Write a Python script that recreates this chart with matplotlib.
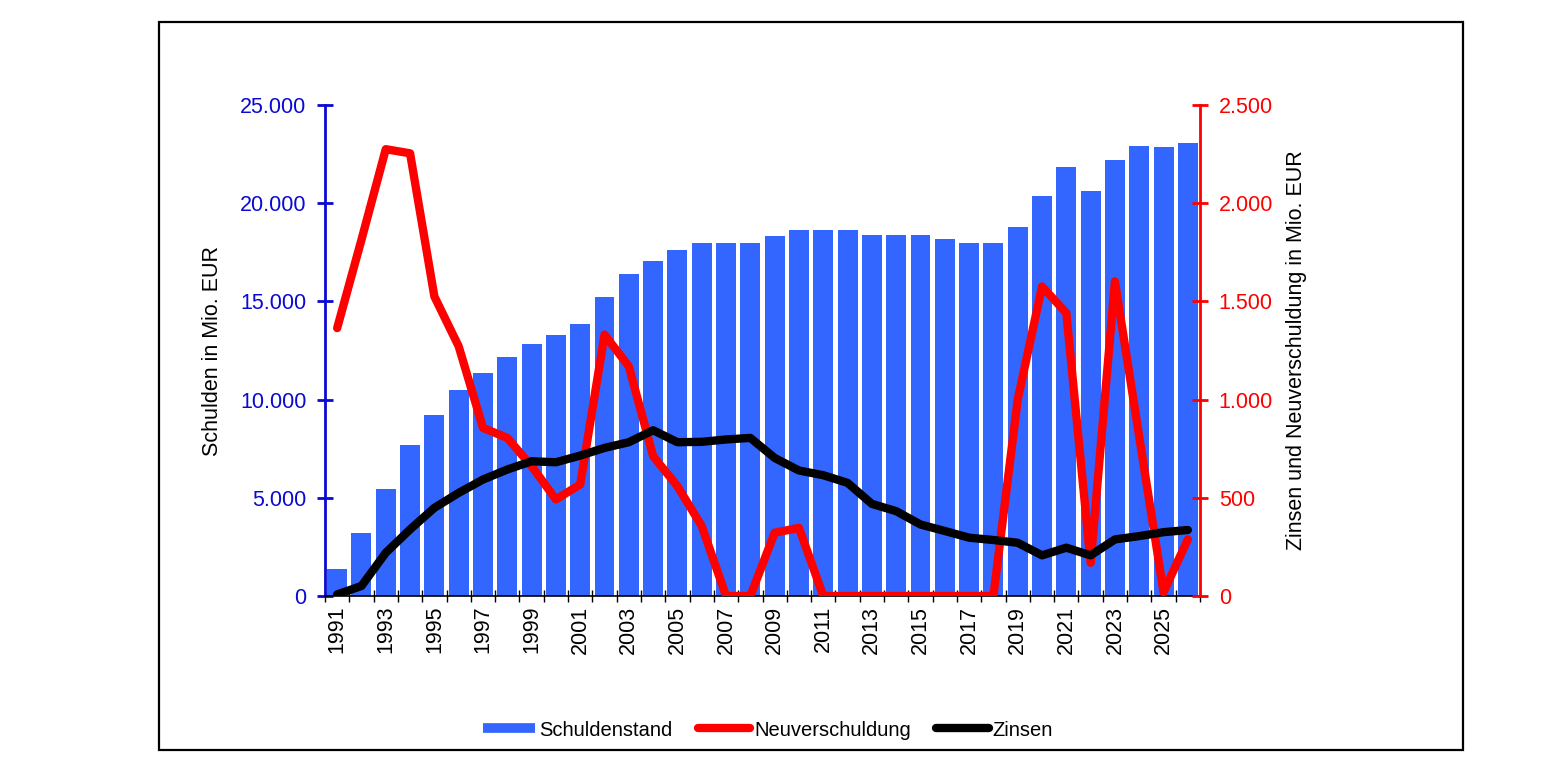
import matplotlib
matplotlib.use("Agg")
from matplotlib import pyplot as plt
from matplotlib.patches import Rectangle
from matplotlib.lines import Line2D
from matplotlib.ticker import FuncFormatter, FixedLocator
import numpy as np

plt.rcParams["font.family"] = ["Liberation Sans", "DejaVu Sans"]

years = list(range(1991, 2027))
schuldenstand = [1360, 3190, 5470, 7690, 9240, 10510, 11370, 12190, 12850, 13310,
                 13860, 15240, 16410, 17070, 17630, 17970, 17970, 17970, 18340, 18640,
                 18640, 18640, 18390, 18390, 18390, 18190, 17970, 17970, 18800, 20370,
                 21850, 20630, 22200, 22920, 22860, 23080]
neuverschuldung = [1364, 1814, 2275, 2254, 1525, 1271, 856, 805, 661, 492,
                   568, 1331, 1169, 712, 559, 356, 0, 0, 322, 347,
                   0, 0, 0, 0, 0, 0, 0, 0, 1000, 1576,
                   1441, 169, 1602, 810, 20, 288]
zinsen = [8, 51, 220, 339, 449, 525, 593, 644, 686, 681,
          715, 754, 783, 844, 783, 785, 797, 805, 703, 639,
          615, 576, 469, 432, 364, 331, 297, 285, 271, 207,
          246, 207, 288, 305, 325, 336]

BLUE_BAR = "#3366ff"
BLUE_AX = "#0a0ad2"
RED = "#ff0000"
FS = 15.5


def thousands(v, _pos):
    return f"{int(round(v)):,}".replace(",", ".")


def main() -> None:
    fig = plt.figure(figsize=(15.44, 7.66), dpi=100)
    fig.patches.append(Rectangle((159 / 1544, 1 - 750 / 766), (1463 - 159) / 1544, (750 - 22) / 766,
                                 transform=fig.transFigure, fill=False, edgecolor="black", linewidth=1.6))

    ax = fig.add_axes([325 / 1544, 1 - 596 / 766, 875 / 1544, 491 / 766])
    x = np.arange(len(years))
    ax.bar(x, schuldenstand, width=0.82, color=BLUE_BAR, label="Schuldenstand", zorder=1)
    ax.set_xlim(-0.5, len(years) - 0.5)
    ax.set_ylim(0, 25000)
    ax.set_yticks(range(0, 25001, 5000))
    ax.yaxis.set_major_formatter(FuncFormatter(thousands))
    ax.tick_params(axis="y", colors=BLUE_AX, labelsize=FS, direction="inout", length=11, width=2, pad=8)
    ax.set_ylabel("Schulden in Mio. EUR", fontsize=FS, color="black", labelpad=12)

    ax.set_xticks(x[::2])
    ax.set_xticklabels([str(y) for y in years[::2]], rotation=90, fontsize=FS)
    ax.xaxis.set_minor_locator(FixedLocator(np.arange(-0.5, len(years), 1.0)))
    ax.tick_params(axis="x", which="major", length=0, pad=7)
    ax.tick_params(axis="x", which="minor", direction="inout", length=9, width=1)

    for s in ["top", "right"]:
        ax.spines[s].set_visible(False)
    ax.spines["left"].set_color(BLUE_AX)
    ax.spines["left"].set_linewidth(2)
    ax.spines["bottom"].set_linewidth(1.2)

    ax2 = ax.twinx()
    l1, = ax2.plot(x, neuverschuldung, color=RED, linewidth=6, label="Neuverschuldung",
                   solid_joinstyle="round", solid_capstyle="round", zorder=3)
    l2, = ax2.plot(x, zinsen, color="black", linewidth=6, label="Zinsen",
                   solid_joinstyle="round", solid_capstyle="round", zorder=4)
    ax2.set_ylim(0, 2500)
    ax2.set_yticks(range(0, 2501, 500))
    ax2.yaxis.set_major_formatter(FuncFormatter(thousands))
    ax2.tick_params(axis="y", colors=RED, labelsize=FS, direction="inout", length=11, width=2, pad=8)
    ax2.set_ylabel("Zinsen und Neuverschuldung in Mio. EUR", fontsize=FS, color="black", labelpad=9)
    for s in ["top", "left", "bottom"]:
        ax2.spines[s].set_visible(False)
    ax2.spines["right"].set_color(RED)
    ax2.spines["right"].set_linewidth(2)

    h_bar = Line2D([0], [0], color=BLUE_BAR, linewidth=7, solid_capstyle="butt")
    fig.legend([h_bar, l1, l2], ["Schuldenstand", "Neuverschuldung", "Zinsen"],
               loc="center", bbox_to_anchor=(768 / 1544, 1 - 730 / 766), ncol=3, frameon=False,
               fontsize=14.5, handlelength=2.6, handletextpad=0.2, columnspacing=1.25)

    fig.savefig("out.png", dpi=100)


if __name__ == "__main__":
    main()
